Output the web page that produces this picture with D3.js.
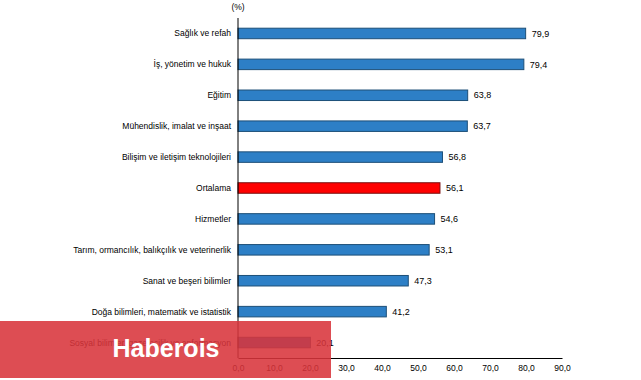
<!DOCTYPE html>
<html>
<head>
<meta charset="utf-8">
<script src="https://cdn.jsdelivr.net/npm/d3@7"></script>
<style>
  body { margin: 0; background: #fff; }
  svg { display: block; font-family: "Liberation Sans", Arial, sans-serif; }
</style>
</head>
<body>
<div id="chart"></div>
<script>
// categories, top to bottom
const categories = [
  "Sağlık ve refah",
  "İş, yönetim ve hukuk",
  "Eğitim",
  "Mühendislik, imalat ve inşaat",
  "Bilişim ve iletişim teknolojileri",
  "Ortalama",
  "Hizmetler",
  "Tarım, ormancılık, balıkçılık ve veterinerlik",
  "Sanat ve beşeri bilimler",
  "Doğa bilimleri, matematik ve istatistik",
  "Sosyal bilimler, gazetecilik ve enformasyon"
];
const values = [79.9, 79.4, 63.8, 63.7, 56.8, 56.1, 54.6, 53.1, 47.3, 41.2, 20.1];
const highlight = "Ortalama";
const ticks = [0, 10, 20, 30, 40, 50, 60, 70, 80, 90];

const width = 641;
const height = 380;
const margin = { top: 18, right: 79, bottom: 22, left: 238 };

const fmt = (v) => v.toFixed(1).replace(".", ",");

const svg = d3.select("#chart")
  .append("svg")
  .attr("width", width)
  .attr("height", height);

const x = d3.scaleLinear()
  .domain([0, 90])
  .range([margin.left, width - margin.right]);

const y = d3.scaleBand()
  .domain(categories)
  .range([margin.top, height - margin.bottom])
  .paddingInner(0.66)
  .paddingOuter(0.33);

// bars
svg.append("g")
  .selectAll("rect")
  .data(categories)
  .join("rect")
  .attr("x", x(0))
  .attr("y", (d) => y(d))
  .attr("width", (d, i) => x(values[i]) - x(0))
  .attr("height", y.bandwidth())
  .attr("fill", (d) => d === highlight ? "#ff0000" : "#2d7fc6")
  .attr("stroke", (d) => d === highlight ? "#7a1010" : "#1d4f78")
  .attr("stroke-width", 1);

// value labels
svg.append("g")
  .selectAll("text")
  .data(categories)
  .join("text")
  .attr("x", (d, i) => x(values[i]) + 6)
  .attr("y", (d) => y(d) + y.bandwidth() / 2)
  .attr("dy", "0.35em")
  .attr("font-size", 9)
  .attr("fill", "#000")
  .text((d, i) => fmt(values[i]));

// category labels
svg.append("g")
  .selectAll("text")
  .data(categories)
  .join("text")
  .attr("x", margin.left - 7)
  .attr("y", (d) => y(d) + y.bandwidth() / 2)
  .attr("dy", "0.35em")
  .attr("text-anchor", "end")
  .attr("font-size", 8.5)
  .attr("fill", "#000")
  .text((d) => d);

// axes
const xAxis = d3.axisBottom(x)
  .tickValues(ticks)
  .tickSize(0)
  .tickPadding(7)
  .tickFormat(fmt);

svg.append("g")
  .attr("transform", `translate(0,${height - margin.bottom})`)
  .call(xAxis)
  .call((g) => g.select(".domain").attr("stroke", "#000"))
  .call((g) => g.selectAll("text")
    .attr("font-size", 8.5)
    .attr("font-family", "Liberation Sans, Arial, sans-serif")
    .attr("fill", "#000"));

svg.append("line")
  .attr("x1", x(0))
  .attr("x2", x(0))
  .attr("y1", margin.top)
  .attr("y2", height - margin.bottom)
  .attr("stroke", "#000");

svg.append("text")
  .attr("x", x(0))
  .attr("y", 10)
  .attr("text-anchor", "middle")
  .attr("font-size", 8.5)
  .text("(%)");

// watermark overlay
svg.append("rect")
  .attr("x", 0)
  .attr("y", 321)
  .attr("width", 331)
  .attr("height", 57)
  .attr("fill", "#d8343b")
  .attr("opacity", 0.88);

svg.append("text")
  .attr("x", 166)
  .attr("y", 357)
  .attr("text-anchor", "middle")
  .attr("font-size", 25)
  .attr("font-weight", "bold")
  .attr("fill", "#fff")
  .text("Haberois");
</script>
</body>
</html>
